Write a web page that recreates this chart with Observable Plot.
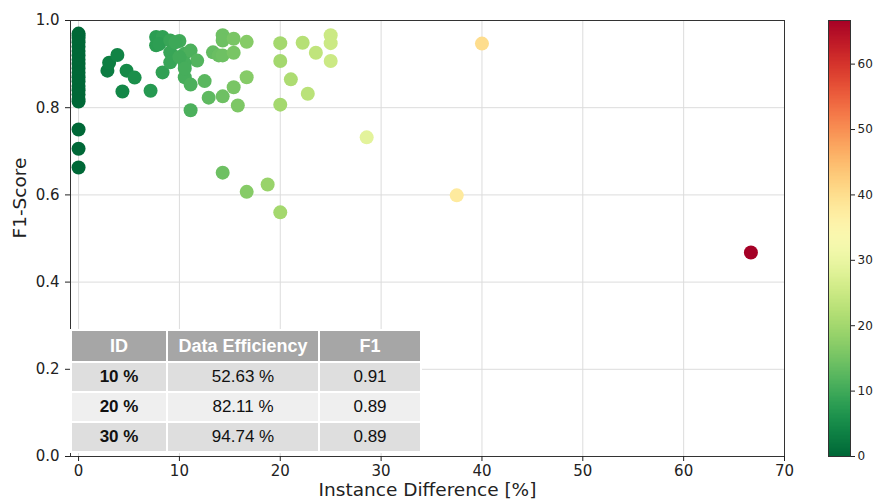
<!DOCTYPE html>
<html><head><meta charset="utf-8">
<script src="https://cdn.jsdelivr.net/npm/d3@7"></script>
<script src="https://cdn.jsdelivr.net/npm/@observablehq/plot@0.6"></script>
<style>
body{margin:0;background:#fff;}
#wrap{position:relative;width:875px;height:503px;font-family:"DejaVu Sans",sans-serif;}
#wrap svg{position:absolute;left:0;top:0;}
#tbl{position:absolute;left:70px;top:329px;border-collapse:collapse;font-family:"Liberation Sans",Arial,sans-serif;font-size:17px;color:#111;}
#tbl td,#tbl th{border:2px solid #fff;text-align:center;padding:0;}
#tbl th{background:#a6a6a6;color:#fff;font-weight:bold;height:30px;font-size:18px;}
#tbl td{height:28px;}
#tbl tr.r0 td{background:#dedede;}
#tbl tr.r1 td{background:#efefef;}
#tbl tr.r2 td{background:#dedede;}
#tbl td.id{font-weight:bold;}
</style></head><body><div id="wrap"></div>
<script>
// Instance difference [%] (x) and F1-score (y)
const instDiff = [
  0,0,0,0,0,0,0,0,0,0,0,0,0,0,0,0,0,0,0,0,0,
  2.86,3.03,3.85,4.76,5.56,4.35,7.14,7.69,7.69,8.33,8.33,8.0,9.09,10.0,9.09,9.09,
  10.53,11.11,11.76,10.53,10.53,11.11,12.5,12.9,14.29,15.38,16.67,15.79,11.11,
  13.33,13.9,14.29,15.38,14.29,14.29,15.38,16.67,9.6,10.0,10.53,
  20,22.22,25,25,23.53,20,25,21.05,22.73,20,
  14.29,16.67,18.75,20,28.57,37.5,40,66.67
];
const f1Score = [
  0.970,0.965,0.960,0.950,0.940,0.930,0.920,0.910,0.900,0.890,0.880,0.870,0.860,0.850,0.840,0.830,0.820,0.814,0.750,0.706,0.663,
  0.885,0.903,0.921,0.885,0.869,0.837,0.839,0.943,0.962,0.962,0.881,0.946,0.954,0.953,0.927,0.904,
  0.924,0.931,0.908,0.901,0.870,0.853,0.861,0.823,0.826,0.847,0.870,0.805,0.794,
  0.927,0.920,0.920,0.926,0.966,0.954,0.958,0.951,0.950,0.916,0.890,
  0.948,0.949,0.966,0.948,0.926,0.907,0.907,0.865,0.832,0.807,
  0.651,0.607,0.624,0.560,0.732,0.599,0.947,0.468
];
const xTicks = [0,10,20,30,40,50,60,70];
const yTicks = [0,0.2,0.4,0.6,0.8,1.0];
const cTicks = [0,10,20,30,40,50,60];
const cMax = 66.67;

// table
const tblHeader = ["ID","Data Efficiency","F1"];
const tblID = ["10 %","20 %","30 %"];
const tblEff = ["52.63 %","82.11 %","94.74 %"];
const tblF1 = ["0.91","0.89","0.89"];

const points = instDiff.map((x,i)=>({x, y:f1Score[i]}));
const colorOpts = {type:"linear", scheme:"RdYlGn", reverse:true, domain:[0,cMax]};

const main = Plot.plot({
  width:875, height:503,
  marginLeft:70, marginRight:91, marginTop:20, marginBottom:47,
  style:{fontFamily:"DejaVu Sans, sans-serif", fontSize:"15px", background:"transparent", color:"#222"},
  x:{domain:[-0.8,70]},
  y:{domain:[0,1]},
  color:colorOpts,
  marks:[
    Plot.gridX(xTicks,{stroke:"#dcdcdc", strokeOpacity:1}),
    Plot.gridY(yTicks,{stroke:"#dcdcdc", strokeOpacity:1}),
    Plot.dot(points,{x:"x", y:"y", fill:"x", r:7, fillOpacity:1}),
    Plot.frame({stroke:"#333"}),
    Plot.axisX(xTicks,{tickSize:5, tickPadding:4, label:null, fontSize:15}),
    Plot.axisY(yTicks,{tickSize:5, tickPadding:6, tickFormat:d3.format(".1f"), label:null, fontSize:15}),
    Plot.text(["Instance Difference [%]"],{frameAnchor:"bottom", dy:39, fontSize:18.5, fill:"#222"}),
    Plot.text(["F1-Score"],{frameAnchor:"left", dx:-50, rotate:-90, fontSize:18.5, fill:"#222"})
  ]
});

const step = 0.2;
const stops = d3.range(0, cMax, step);
const cbar = Plot.plot({
  width:875, height:503,
  marginLeft:828, marginRight:25, marginTop:20, marginBottom:47,
  style:{fontFamily:"DejaVu Sans, sans-serif", fontSize:"12px", background:"transparent", color:"#222"},
  x:{domain:[0,1], axis:null},
  y:{domain:[0,cMax], axis:null},
  color:colorOpts,
  marks:[
    Plot.rect(stops,{x1:()=>0, x2:()=>1, y1:d=>d, y2:d=>Math.min(d+step*1.5,cMax), fill:d=>d, shapeRendering:"crispEdges"}),
    Plot.frame({stroke:"#333"}),
    Plot.axisY(cTicks,{anchor:"right", tickSize:4, tickPadding:3, label:null, fontSize:12})
  ]
});

const wrap = document.getElementById("wrap");
wrap.appendChild(main);
wrap.appendChild(cbar);

const table = document.createElement("table");
table.id = "tbl";
const widths = [94,150,100];
let html = "<tr>" + tblHeader.map((h,i)=>`<th style="width:${widths[i]}px">${h}</th>`).join("") + "</tr>";
tblID.forEach((id,i)=>{
  html += `<tr class="r${i}"><td class="id">${id}</td><td>${tblEff[i]}</td><td>${tblF1[i]}</td></tr>`;
});
table.innerHTML = html;
wrap.appendChild(table);
</script></body></html>
